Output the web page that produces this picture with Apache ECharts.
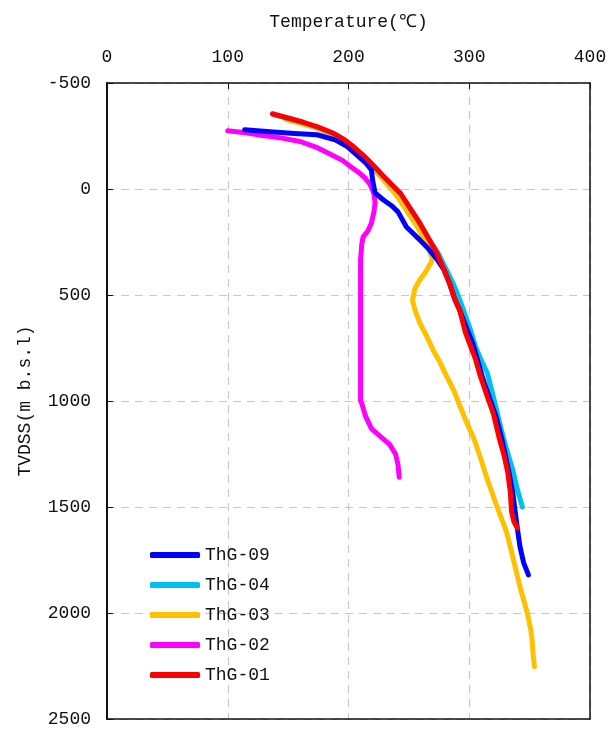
<!DOCTYPE html>
<html>
<head>
<meta charset="utf-8">
<script src="https://cdn.jsdelivr.net/npm/echarts@6/dist/echarts.min.js"></script>
<style>
  html, body { margin: 0; padding: 0; background: #fff; }
  #chart { width: 616px; height: 729px; }
</style>
</head>
<body>
<div id="chart"></div>
<script>
// Well temperature profiles: [temperature (°C), depth TVDSS (m)]
const xTicks = [0, 100, 200, 300, 400];
const yTicks = [-500, 0, 500, 1000, 1500, 2000, 2500];

const wellNames = ['ThG-09', 'ThG-04', 'ThG-03', 'ThG-02', 'ThG-01'];

const thg09 = [
  [114, -280], [135, -270], [155, -262], [174, -256], [189, -232], [199, -200],
  [207, -160], [214, -125], [219, -90], [220, -40], [222, 19], [229, 52],
  [236, 80], [241, 108], [248, 179], [259, 240], [267, 287], [273, 330],
  [279, 380], [284, 450], [288, 520], [292, 570], [298, 660], [303, 730],
  [307, 810], [311, 890], [317, 990], [322, 1070], [327, 1180], [330, 1260],
  [333, 1340], [336, 1430], [338, 1520], [340, 1607], [342, 1687], [345, 1762],
  [349, 1820]
];

const thg04 = [
  [138, -350], [150, -332], [162, -314], [175, -290], [187, -262], [196, -233],
  [204, -198], [212, -158], [220, -113], [229, -58], [236, -18], [243, 22],
  [251, 92], [259, 162], [266, 232], [274, 300], [281, 380], [287, 450],
  [292, 520], [297, 600], [301, 664], [305, 740], [310, 810], [315, 868],
  [320, 980], [325, 1100], [330, 1210], [336, 1324], [340, 1420], [344, 1500]
];

const thg03 = [
  [148, -328], [160, -310], [172, -290], [184, -262], [194, -230], [203, -192],
  [211, -150], [219, -105], [227, -55], [234, -10], [241, 40], [249, 110],
  [257, 179], [264, 250], [269, 320], [269, 340], [264, 390], [259, 429],
  [255, 470], [253, 523], [255, 570], [259, 631], [265, 697], [270, 759],
  [276, 820], [281, 880], [287, 947], [292, 1020], [298, 1103], [304, 1180],
  [309, 1263], [315, 1371], [318, 1418], [323, 1499], [328, 1574], [331, 1620],
  [336, 1734], [342, 1876], [348, 1998], [351, 2080], [352, 2125], [353, 2200],
  [354, 2253]
];

const thg02 = [
  [100, -275], [115, -265], [129, -252], [145, -240], [160, -224], [173, -198],
  [185, -164], [195, -135], [203, -100], [209, -76], [214, -50], [218, -20],
  [221, 20], [222, 66], [221, 110], [219, 160], [216, 198], [212, 228],
  [211, 260], [210, 335], [210, 1000], [211, 1012], [214, 1070], [219, 1130],
  [227, 1170], [234, 1205], [239, 1250], [241, 1300], [242, 1360]
];

const thg01 = [
  [137, -355], [150, -335], [162, -316], [175, -292], [187, -264], [196, -235],
  [204, -200], [212, -160], [220, -115], [229, -60], [236, -20], [243, 20],
  [251, 90], [259, 160], [266, 230], [273, 300], [279, 380], [284, 450],
  [288, 520], [292, 570], [297, 680], [301, 740], [305, 800], [309, 880],
  [315, 980], [320, 1060], [325, 1180], [329, 1260], [332, 1340], [334, 1430],
  [335, 1520], [337, 1570], [340, 1600]
];

const FONT = '"Liberation Mono", "DejaVu Sans Mono", monospace';
const TXT = '#111';

function well(name, data, color, z) {
  return {
    name: name,
    type: 'line',
    data: data,
    showSymbol: false,
    symbol: 'none',
    z: z,
    lineStyle: { color: color, width: 5, cap: 'round', join: 'round' },
    itemStyle: { color: color }
  };
}

const dashed = { show: true, lineStyle: { color: '#c8c8c8', type: [8, 6], width: 1.2 } };
const plain = (v) => String(v);

const chart = echarts.init(document.getElementById('chart'));
chart.setOption({
  animation: false,
  backgroundColor: '#fff',
  textStyle: { fontFamily: FONT, color: TXT },
  grid: { left: 107, right: 26, top: 83, bottom: 10 },
  legend: {
    data: wellNames,
    orient: 'vertical',
    left: 145, top: 541,
    icon: 'roundRect',
    itemWidth: 50, itemHeight: 6,
    itemGap: 12,
    textStyle: { fontFamily: FONT, fontSize: 18, color: TXT }
  },
  xAxis: [{
    type: 'value',
    position: 'top',
    min: xTicks[0], max: xTicks[xTicks.length - 1], interval: 100,
    name: 'Temperature(℃)',
    nameLocation: 'middle',
    nameGap: 52,
    nameTextStyle: { fontFamily: FONT, fontSize: 18, color: TXT },
    axisLine: { show: true, onZero: false, lineStyle: { color: '#111', width: 1.5 } },
    axisTick: { show: true, inside: true, length: 6, lineStyle: { color: '#111' } },
    axisLabel: { fontFamily: FONT, fontSize: 18, color: TXT, margin: 17, formatter: plain },
    splitLine: dashed
  }, {
    type: 'value',
    position: 'bottom',
    min: xTicks[0], max: xTicks[xTicks.length - 1], interval: 100,
    axisLine: { show: true, onZero: false, lineStyle: { color: '#111', width: 1.5 } },
    axisTick: { show: false },
    axisLabel: { show: false },
    splitLine: { show: false }
  }],
  yAxis: [{
    type: 'value',
    inverse: true,
    min: yTicks[0], max: yTicks[yTicks.length - 1], interval: 500,
    name: 'TVDSS(m b.s.l)',
    nameLocation: 'middle',
    nameGap: 73,
    nameRotate: 90,
    nameTextStyle: { fontFamily: FONT, fontSize: 18, color: TXT },
    axisLine: { show: true, onZero: false, lineStyle: { color: '#111', width: 2 } },
    axisTick: { show: true, inside: true, length: 6, lineStyle: { color: '#111' } },
    axisLabel: { fontFamily: FONT, fontSize: 18, color: TXT, margin: 16, formatter: plain },
    splitLine: dashed
  }, {
    type: 'value',
    position: 'right',
    inverse: true,
    min: yTicks[0], max: yTicks[yTicks.length - 1], interval: 500,
    axisLine: { show: true, onZero: false, lineStyle: { color: '#111', width: 1.5 } },
    axisTick: { show: false },
    axisLabel: { show: false },
    splitLine: { show: false }
  }],
  series: [
    well('ThG-02', thg02, '#ff00ff', 2),
    well('ThG-03', thg03, '#ffc000', 3),
    well('ThG-04', thg04, '#00c0f0', 4),
    well('ThG-09', thg09, '#0000ff', 5),
    well('ThG-01', thg01, '#ff0000', 6)
  ]
});
</script>
</body>
</html>
